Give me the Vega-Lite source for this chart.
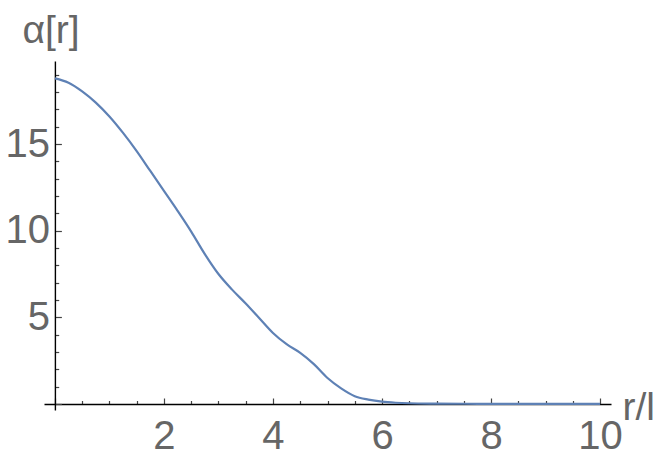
{
  "$schema": "https://vega.github.io/schema/vega-lite/v6.json",
  "width": 567,
  "height": 349,
  "autosize": {"type": "none"},
  "padding": {"left": 44, "top": 61, "right": 53, "bottom": 51},
  "background": "white",
  "view": {"stroke": null},
  "config": {
    "axis": {
      "grid": false,
      "domainColor": "#000000",
      "domainWidth": 1.4,
      "tickColor": "#444444",
      "tickWidth": 1.2,
      "labelFont": "Liberation Sans",
      "labelFontSize": 40,
      "labelColor": "#666666",
      "titleFont": "Liberation Sans",
      "titleFontSize": 39,
      "titleFontWeight": "normal",
      "titleColor": "#666666"
    }
  },
  "data": {
    "values": [
      {"r": 0, "alpha": 18.8},
      {"r": 0.25, "alpha": 18.55},
      {"r": 0.5, "alpha": 18.05},
      {"r": 0.75, "alpha": 17.4},
      {"r": 1.0, "alpha": 16.6},
      {"r": 1.25, "alpha": 15.65},
      {"r": 1.5, "alpha": 14.6},
      {"r": 1.75, "alpha": 13.45},
      {"r": 2.0, "alpha": 12.3},
      {"r": 2.25, "alpha": 11.15},
      {"r": 2.5, "alpha": 9.95},
      {"r": 2.75, "alpha": 8.65},
      {"r": 3.0, "alpha": 7.5},
      {"r": 3.25, "alpha": 6.6},
      {"r": 3.5, "alpha": 5.8},
      {"r": 3.75, "alpha": 4.95},
      {"r": 4.0, "alpha": 4.1},
      {"r": 4.25, "alpha": 3.45},
      {"r": 4.5, "alpha": 2.95},
      {"r": 4.75, "alpha": 2.3},
      {"r": 5.0, "alpha": 1.5},
      {"r": 5.25, "alpha": 0.9},
      {"r": 5.5, "alpha": 0.45},
      {"r": 5.75, "alpha": 0.25},
      {"r": 6.0, "alpha": 0.13},
      {"r": 6.25, "alpha": 0.07},
      {"r": 6.5, "alpha": 0.04},
      {"r": 7.0, "alpha": 0.02},
      {"r": 7.5, "alpha": 0.01},
      {"r": 8.0, "alpha": 0.005},
      {"r": 9.0, "alpha": 0},
      {"r": 10.0, "alpha": 0}
    ]
  },
  "mark": {"type": "line", "color": "#5E81B5", "strokeWidth": 2.2, "interpolate": "monotone"},
  "encoding": {
    "x": {
      "field": "r",
      "type": "quantitative",
      "scale": {"domain": [-0.2, 10.2], "nice": false, "zero": false},
      "axis": {
        "orient": "bottom",
        "offset": -6,
        "values": [0, 0.5, 1, 1.5, 2, 2.5, 3, 3.5, 4, 4.5, 5, 5.5, 6, 6.5, 7, 7.5, 8, 8.5, 9, 9.5, 10],
        "labelExpr": "(datum.value % 2 === 0 && datum.value > 0) ? ('' + datum.value) : ''",
        "tickSize": {"condition": {"test": "datum.value % 2 === 0", "value": -6}, "value": -3.5},
        "labelPadding": 18,
        "labelFlush": false,
        "labelOverlap": false,
        "title": "r/l",
        "titleAlign": "left",
        "titleBaseline": "alphabetic",
        "titleAnchor": "start",
        "titleX": 578,
        "titleY": 15
      }
    },
    "y": {
      "field": "alpha",
      "type": "quantitative",
      "scale": {"domain": [-0.35, 19.8], "nice": false, "zero": false},
      "axis": {
        "orient": "left",
        "offset": -10.9,
        "values": [0, 1, 2, 3, 4, 5, 6, 7, 8, 9, 10, 11, 12, 13, 14, 15, 16, 17, 18, 19],
        "labelExpr": "(datum.value % 5 === 0 && datum.value > 0) ? ('' + datum.value) : ''",
        "tickSize": {"condition": {"test": "datum.value % 5 === 0", "value": -6.5}, "value": -3.8},
        "labelPadding": 12,
        "labelFlush": false,
        "labelOverlap": false,
        "title": "α[r]",
        "titleAngle": 0,
        "titleAlign": "left",
        "titleBaseline": "alphabetic",
        "titleX": -33,
        "titleY": -19
      }
    }
  }
}
